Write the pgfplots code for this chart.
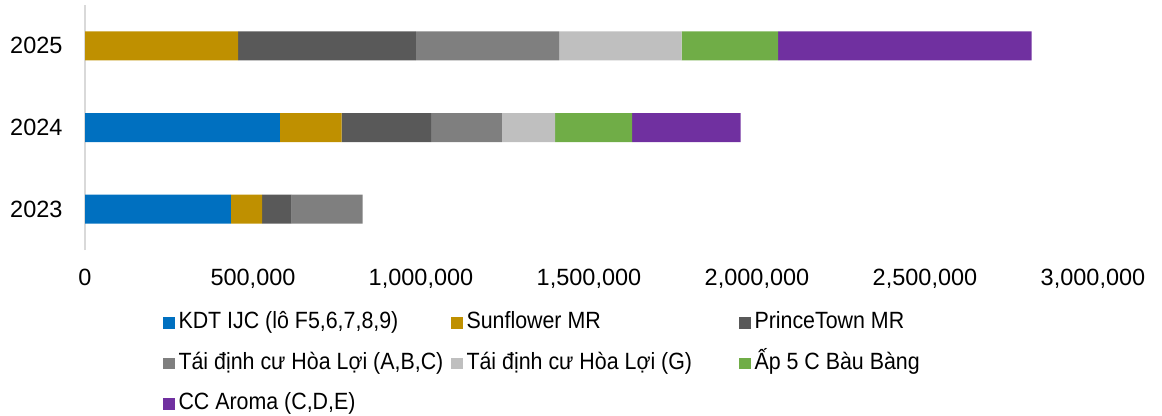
\documentclass[border=0pt]{standalone}
\usepackage{fontspec}
\setmainfont{Liberation Sans}
\newfontfamily\legfont{Liberation Sans}[FakeStretch=0.91]
\usepackage{pgfplots}
\pgfplotsset{compat=1.18}
\definecolor{cBlue}{HTML}{0070C0}
\definecolor{cGold}{HTML}{BF9000}
\definecolor{cDark}{HTML}{595959}
\definecolor{cGray}{HTML}{7F7F7F}
\definecolor{cLight}{HTML}{BFBFBF}
\definecolor{cGreen}{HTML}{70AD47}
\definecolor{cPurple}{HTML}{7030A0}
\definecolor{cAxis}{HTML}{D9D9D9}
\newcommand{\legbox}[1]{\makebox[274.5pt][l]{\hspace{3pt}\legfont #1}}
\begin{document}
\begin{tikzpicture}[font=\fontsize{23.5}{28}\selectfont]
\begin{axis}[
  xbar stacked, bar width=29pt,
  legend image code/.code={\fill[#1,draw=none] (0pt,-5.75pt) rectangle (11.5pt,5.75pt);},
  width=1008pt, height=245pt, scale only axis,
  xmin=0, xmax=3000000, ymin=-0.5, ymax=2.5,
  ytick={0,1,2}, yticklabels={2023,2024,2025},
  xtick={0,500000,1000000,1500000,2000000,2500000,3000000},
  scaled x ticks=false,
  /pgf/number format/fixed,
  /pgf/number format/1000 sep={,},
  /pgf/number format/assume math mode=true,
  axis x line*=bottom, axis y line*=left,
  x axis line style={draw=none},
  y axis line style={draw=cAxis, line width=1.2pt, -},
  tick style={draw=none},
  major tick length=0pt,
  xticklabel style={yshift=-16pt},
  yticklabel style={xshift=-19pt},
  legend columns=3,
  legend cell align=left,
  legend style={draw=none, fill=none, at={(0.0774,-0.247)}, anchor=north west,
    inner sep=0pt, outer sep=0pt, column sep=0pt, row sep=15.5pt,
    nodes={inner sep=1pt, text height=17pt, text depth=6pt}},
]
\addplot[fill=cBlue, draw=none] coordinates {(434000,0) (580000,1) (0,2)};
\addlegendentry{\legbox{KDT IJC (lô F5,6,7,8,9)}}
\addplot[fill=cGold, draw=none] coordinates {(93000,0) (184000,1) (456000,2)};
\addlegendentry{\legbox{Sunflower MR}}
\addplot[fill=cDark, draw=none] coordinates {(88000,0) (266000,1) (529000,2)};
\addlegendentry{\legbox{PrinceTown MR}}
\addplot[fill=cGray, draw=none] coordinates {(211000,0) (211000,1) (426000,2)};
\addlegendentry{\legbox{Tái định cư Hòa Lợi (A,B,C)}}
\addplot[fill=cLight, draw=none] coordinates {(0,0) (158000,1) (365000,2)};
\addlegendentry{\legbox{Tái định cư Hòa Lợi (G)}}
\addplot[fill=cGreen, draw=none] coordinates {(0,0) (229000,1) (287000,2)};
\addlegendentry{\legbox{Ấp 5 C Bàu Bàng}}
\addplot[fill=cPurple, draw=none] coordinates {(0,0) (323000,1) (754000,2)};
\addlegendentry{\legbox{CC Aroma (C,D,E)}}
\end{axis}
\pgfresetboundingbox
\path ([xshift=-85pt,yshift=5pt]current axis.north west) rectangle ([xshift=69pt,yshift=-165pt]current axis.south east);
\end{tikzpicture}
\end{document}
